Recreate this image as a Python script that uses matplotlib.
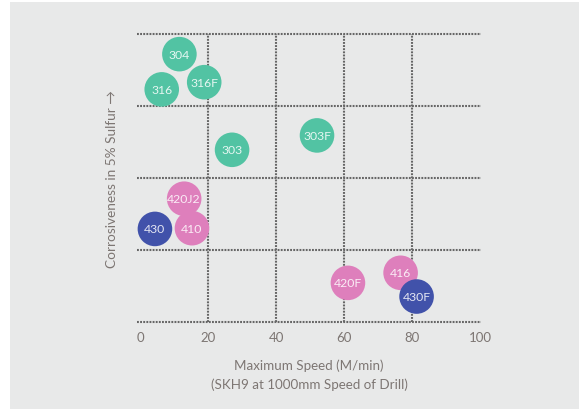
import matplotlib
matplotlib.use("Agg")
import matplotlib.pyplot as plt
from matplotlib.patches import Rectangle

plt.rcParams['font.family'] = ['Lato', 'DejaVu Sans']

# data
labels = ["304", "316", "316F", "303", "303F", "420J2", "430", "410", "420F", "416", "430F"]
speed = [11.5, 6.3, 18.8, 27.0, 52.0, 12.9, 4.3, 15.2, 61.1, 76.6, 81.3]
corrosiveness = [3.72, 3.23, 3.33, 2.39, 2.59, 1.71, 1.29, 1.30, 0.54, 0.68, 0.35]
groups = ["austenitic", "austenitic", "austenitic", "austenitic", "austenitic",
          "martensitic", "ferritic", "martensitic", "martensitic", "martensitic", "ferritic"]
group_colors = {"austenitic": "#52c3a3", "martensitic": "#de7fbc", "ferritic": "#4152aa"}
x_ticks = [0, 20, 40, 60, 80, 100]
v_grid = [20, 40, 60, 80]
h_grid = [0, 1, 2, 3, 4]

W, H = 579, 410
fig = plt.figure(figsize=(W / 100, H / 100), dpi=100)
fig.patch.set_facecolor("white")
fig.add_artist(Rectangle((10 / W, 0), 1 - 10 / W, (H - 3) / H,
                         transform=fig.transFigure, facecolor="#e8e9e9",
                         edgecolor="none", zorder=0))

ax = fig.add_axes([137.4 / W, 87.3 / H, (480.8 - 137.4) / W, (322.7 - 35) / H])
ax.set_facecolor("none")
ax.set_xlim(-0.86, 100.2)
ax.set_ylim(0, 4)
for s in ax.spines.values():
    s.set_visible(False)

grid_kw = dict(color="#666666", linewidth=1.5, linestyle=(0, (0.9, 0.6)), clip_on=False, zorder=1)
for g in h_grid:
    ax.axhline(g, **grid_kw)
for g in v_grid:
    ax.plot([g, g], [0, 4], **grid_kw)

for lab, x, y, grp in zip(labels, speed, corrosiveness, groups):
    ax.scatter([x], [y], s=620, color=group_colors[grp], edgecolors="none", zorder=3)
    ax.text(x, y, lab, ha="center", va="center", color="white", alpha=0.85,
            fontsize=8.8, zorder=4)

ax.set_xticks(x_ticks)
ax.set_xticklabels([str(t) for t in x_ticks])
ax.set_yticks([])
ax.tick_params(axis="x", length=0, pad=7, labelsize=9.5, labelcolor="#7d7673")

ax.set_xlabel("Maximum Speed (M/min)\n(SKH9 at 1000mm Speed of Drill)",
              fontsize=9.6, color="#7d7673", labelpad=11, linespacing=1.55)
ax.set_ylabel("Corrosiveness in 5% Sulfur \u2192", fontsize=9.8, color="#7d7673", labelpad=14)

fig.savefig("out.png", dpi=100)
